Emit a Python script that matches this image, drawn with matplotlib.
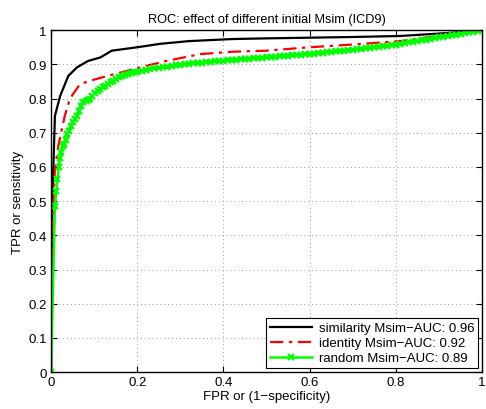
import matplotlib
matplotlib.use('Agg')
import matplotlib.pyplot as plt

plt.rcParams['font.family'] = ['Liberation Sans', 'DejaVu Sans']

# ROC curves
sim_fpr = [0, 0.003, 0.009, 0.021, 0.04, 0.06, 0.086, 0.114, 0.141, 0.2, 0.253, 0.32, 0.42,
           0.5, 0.6, 0.7, 0.81, 0.9, 0.98, 1.0]
sim_tpr = [0, 0.5, 0.749, 0.807, 0.866, 0.891, 0.91, 0.92, 0.94, 0.95, 0.96, 0.968, 0.974,
           0.976, 0.978, 0.98, 0.983, 0.99, 0.997, 1.0]

idn_fpr = [0, 0.004, 0.009, 0.017, 0.032, 0.044, 0.067, 0.09, 0.137, 0.206, 0.268, 0.346,
           0.423, 0.5, 0.6, 0.7, 0.81, 0.9, 0.98, 1.0]
idn_tpr = [0, 0.45, 0.594, 0.662, 0.75, 0.8, 0.842, 0.852, 0.868, 0.891, 0.91, 0.93,
           0.937, 0.94, 0.95, 0.958, 0.968, 0.983, 0.997, 1.0]

rnd_fpr = [0, 0.009, 0.012, 0.015, 0.018, 0.021, 0.024, 0.027, 0.030, 0.034, 0.038, 0.042,
           0.046, 0.050, 0.055, 0.060, 0.065, 0.070, 0.075, 0.080, 0.085, 0.090, 0.096,
           0.102, 0.108, 0.114, 0.120, 0.126, 0.132, 0.138, 0.144, 0.150, 0.157, 0.164,
           0.171, 0.178, 0.185, 0.192,
           0.20, 0.21, 0.22, 0.23, 0.24, 0.25, 0.26, 0.27, 0.28, 0.29,
           0.30, 0.31, 0.32, 0.33, 0.34, 0.35, 0.36, 0.37, 0.38, 0.39,
           0.40, 0.41, 0.42, 0.43, 0.44, 0.45, 0.46, 0.47, 0.48, 0.49,
           0.50, 0.51, 0.52, 0.53, 0.54, 0.55, 0.56, 0.57, 0.58, 0.59,
           0.60, 0.61, 0.62, 0.63, 0.64, 0.65, 0.66, 0.67, 0.68, 0.69,
           0.70, 0.71, 0.72, 0.73, 0.74, 0.75, 0.76, 0.77, 0.78, 0.79,
           0.80, 0.81, 0.82, 0.83, 0.84, 0.85, 0.86, 0.87, 0.88, 0.89,
           0.90, 0.91, 0.92, 0.93, 0.94, 0.95, 0.96, 0.97, 0.98, 0.99, 1.0]
rnd_tpr = [0, 0.486, 0.53, 0.565, 0.6, 0.625, 0.645, 0.66, 0.667, 0.68, 0.695, 0.705,
           0.72, 0.73, 0.74, 0.75, 0.765, 0.778, 0.789, 0.792, 0.796, 0.8, 0.808,
           0.815, 0.822, 0.828, 0.834, 0.838, 0.842, 0.847, 0.852, 0.857, 0.862, 0.865,
           0.869, 0.872, 0.875, 0.877,
           0.879, 0.882, 0.884, 0.886, 0.888, 0.889, 0.891, 0.893, 0.895, 0.897,
           0.899, 0.900, 0.902, 0.903, 0.904, 0.905, 0.906, 0.908, 0.909, 0.910,
           0.911, 0.912, 0.913, 0.914, 0.915, 0.916, 0.917, 0.918, 0.919, 0.920,
           0.921, 0.922, 0.922, 0.923, 0.924, 0.925, 0.926, 0.927, 0.928, 0.929,
           0.930, 0.931, 0.932, 0.934, 0.935, 0.936, 0.938, 0.939, 0.940, 0.942,
           0.943, 0.945, 0.946, 0.948, 0.949, 0.951, 0.952, 0.954, 0.955, 0.957,
           0.958, 0.960, 0.962, 0.964, 0.966, 0.968, 0.970, 0.972, 0.974, 0.977,
           0.979, 0.981, 0.983, 0.985, 0.987, 0.989, 0.991, 0.994, 0.996, 0.998, 1.0]

labels = ['similarity Msim\u2212AUC: 0.96', 'identity Msim\u2212AUC: 0.92',
          'random Msim\u2212AUC: 0.89']

fig = plt.figure(figsize=(4.86, 4.10), dpi=100)
ax = fig.add_axes([0.105, 0.090, 0.887, 0.834])

ax.plot(sim_fpr, sim_tpr, color='black', lw=1.6, label=labels[0])
ax.plot(idn_fpr, idn_tpr, color='red', lw=1.6, linestyle=(0, (6, 2.5, 1.5, 2.5)), label=labels[1])
ax.plot(rnd_fpr, rnd_tpr, color='#00ff00', lw=1.8, marker='x', markersize=4.5,
        markeredgewidth=1.6, label=labels[2])

ax.set_xlim(0, 1)
ax.set_ylim(0, 1)
ax.set_xticks([0, 0.2, 0.4, 0.6, 0.8, 1])
ax.set_xticklabels(['0', '0.2', '0.4', '0.6', '0.8', '1'])
ax.set_yticks([i / 10 for i in range(11)])
ax.set_yticklabels(['0'] + ['0.%d' % i for i in range(1, 10)] + ['1'])
ax.tick_params(direction='in', top=True, right=True, labelsize=9.5, length=4, width=0.8, pad=3)
ax.grid(True, linestyle=(0, (1, 3)), color='#999999', lw=0.7)
for s in ax.spines.values():
    s.set_linewidth(1.0)

ax.set_title('ROC: effect of different initial Msim (ICD9)', fontsize=9.2, pad=6)
ax.set_xlabel('FPR or (1\u2212specificity)', fontsize=9.5, labelpad=1)
ax.set_ylabel('TPR or sensitivity', fontsize=9.5, labelpad=3)

leg = ax.legend(loc='lower right', fontsize=9.5, fancybox=False, framealpha=1,
                edgecolor='black', borderaxespad=0.3, handlelength=3.2,
                borderpad=0.3, labelspacing=0.2, handletextpad=0.5)
leg.get_frame().set_linewidth(0.8)

fig.savefig('out.png', dpi=100)
